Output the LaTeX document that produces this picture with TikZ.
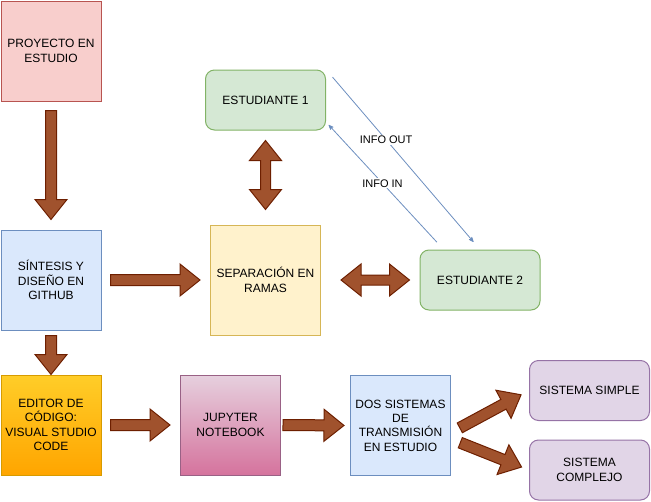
\documentclass[tikz,border=0pt]{standalone}
\usepackage{fontspec}
\setmainfont{Liberation Sans}
\usepackage{tikz}
\usetikzlibrary{arrows,calc}

\definecolor{rojofill}{HTML}{F8CECC}
\definecolor{rojoborde}{HTML}{B85450}
\definecolor{azulfill}{HTML}{DAE8FC}
\definecolor{azulborde}{HTML}{6C8EBF}
\definecolor{amarillofill}{HTML}{FFF2CC}
\definecolor{amarilloborde}{HTML}{D6B656}
\definecolor{verdefill}{HTML}{D5E8D4}
\definecolor{verdeborde}{HTML}{82B366}
\definecolor{morafill}{HTML}{E1D5E7}
\definecolor{moraborde}{HTML}{9673A6}
\definecolor{naranjaarriba}{HTML}{FFCD28}
\definecolor{naranjaabajo}{HTML}{FFA500}
\definecolor{naranjaborde}{HTML}{D79B00}
\definecolor{rosaarriba}{HTML}{E6D0DE}
\definecolor{rosaabajo}{HTML}{D5739D}
\definecolor{rosaborde}{HTML}{996185}
\definecolor{flechafill}{HTML}{A0522D}
\definecolor{flechaborde}{HTML}{6D1F00}

\begin{document}
\begin{tikzpicture}
  %[x=1pt,y=-1pt,every node/.style={draw,align=center}]
  [x=1pt,y=-1pt,>=stealth',
   every node/.style={align=center,inner sep=0pt,font=\fontsize{12}{14.4}\selectfont},
   caja/.style={draw,line width=1pt,minimum width=100pt,minimum height=100pt},
   redonda/.style={draw,line width=1pt,rounded corners=9pt,minimum width=120pt,minimum height=60pt},
   fat/.style 2 args={draw=flechaborde,fill=flechafill,line width=1pt,
     to path={let \p1=(\tikztostart), \p2=(\tikztotarget),
       \n1={atan2(\y2-\y1,\x2-\x1)}, \n2={veclen(\x2-\x1,\y2-\y1)} in
       {[shift={(\p1)},rotate=\n1]
         (#1,-5.5) -- (\n2-#2-20,-5.5) -- (\n2-#2-20,-16) -- (\n2-#2,0)
         -- (\n2-#2-20,16) -- (\n2-#2-20,5.5) -- (#1,5.5) -- cycle}}},
   fatboth/.style 2 args={draw=flechaborde,fill=flechafill,line width=1pt,
     to path={let \p1=(\tikztostart), \p2=(\tikztotarget),
       \n1={atan2(\y2-\y1,\x2-\x1)}, \n2={veclen(\x2-\x1,\y2-\y1)} in
       {[shift={(\p1)},rotate=\n1]
         (#1,0) -- (#1+20,-16) -- (#1+20,-5) -- (\n2-#2-20,-5) -- (\n2-#2-20,-16)
         -- (\n2-#2,0) -- (\n2-#2-20,16) -- (\n2-#2-20,5) -- (#1+20,5) -- (#1+20,16) -- cycle}}},
   info/.style={draw=azulborde,line width=0.8pt,->,shorten <=10pt,shorten >=10pt},
   lbl/.style={fill=white,inner sep=1pt,font=\fontsize{11}{13}\selectfont}]

  \useasboundingbox (0,0) rectangle (651,501);

  \node[caja,fill=rojofill,draw=rojoborde] (np) at (51,51) {PROYECTO EN\\ESTUDIO};
  \node[caja,fill=azulfill,draw=azulborde] (ns) at (51,280) {SÍNTESIS Y\\DISEÑO EN\\GITHUB};
  \node[caja,top color=naranjaarriba,bottom color=naranjaabajo,draw=naranjaborde] (nv) at (51,425)
    {EDITOR DE\\CÓDIGO:\\VISUAL STUDIO\\CODE};
  \node[caja,top color=rosaarriba,bottom color=rosaabajo,draw=rosaborde] (nj) at (230.5,425) {JUPYTER\\NOTEBOOK};
  \node[caja,fill=azulfill,draw=azulborde] (nd) at (400.5,425.5) {DOS SISTEMAS\\DE\\TRANSMISIÓN\\EN ESTUDIO};
  \node[caja,fill=amarillofill,draw=amarilloborde,minimum width=110pt,minimum height=110pt] (nr) at (265.5,280)
    {SEPARACIÓN EN\\RAMAS};
  \node[redonda,fill=verdefill,draw=verdeborde] (ne1) at (265.5,100) {ESTUDIANTE 1};
  \node[redonda,fill=verdefill,draw=verdeborde] (ne2) at (480,280) {ESTUDIANTE 2};
  \node[redonda,fill=morafill,draw=moraborde] (nss) at (589.5,390.5) {SISTEMA SIMPLE};
  \node[redonda,fill=morafill,draw=moraborde] (nsc) at (589.5,470) {SISTEMA\\COMPLEJO};

  \path (np.south) edge[fat={9}{10}] (ns.north);
  \path (ns.east) edge[fat={9}{10}] (nr.west);
  \path (ns.south) edge[fat={5}{0}] (nv.north);
  \path (nv.east) edge[fat={9}{10}] (nj.west);
  \path (nj.east) edge[fat={2}{6}] (nd.west);
  \path (nd.-8) edge[fat={10}{9}] (nss.west);
  \path (nd.-15) edge[fat={10}{8}] (nsc.west);
  \path (ne1.south) edge[fatboth={10}{15}] (nr.north);
  \path (nr.east) edge[fatboth={20}{10}] (ne2.west);

  \path (ne1.north east) edge[info] node[lbl,pos=0.39] {INFO OUT} (ne2.north);
  \path (ne2.140) edge[info,shorten >=4pt] node[lbl,pos=0.52] {INFO IN} (ne1.-20);

\end{tikzpicture}
\end{document}
